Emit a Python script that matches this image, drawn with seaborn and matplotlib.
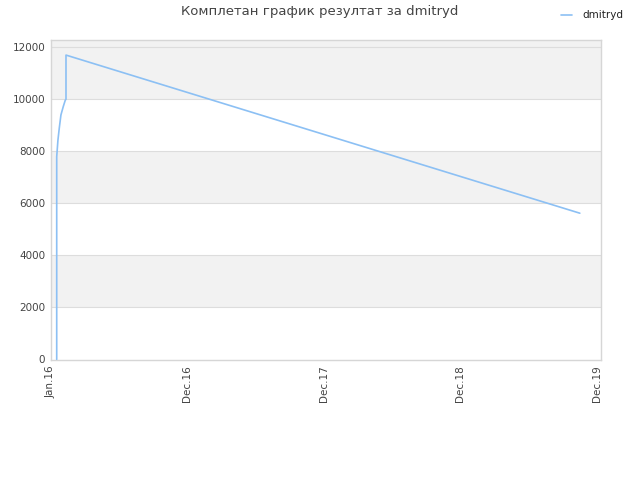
import matplotlib
matplotlib.use("Agg")
import matplotlib.pyplot as plt
import seaborn as sns
import pandas as pd

# ---- data ----
title = "Комплетан график резултат за dmitryd"
series_name = "dmitryd"
tick_labels = ["Jan.16", "Dec.16", "Dec.17", "Dec.18", "Dec.19"]
tick_positions = [0, 1, 2, 3, 4]
x_vals = [0.044, 0.044, 0.053, 0.063, 0.075, 0.092, 0.107, 0.112, 0.112, 3.875]
y_vals = [0, 7790, 8430, 8900, 9400, 9720, 9970, 10000, 11700, 5620]
y_ticks = [0, 2000, 4000, 6000, 8000, 10000, 12000]

df = pd.DataFrame({"x": x_vals, "y": y_vals, "series": series_name})

sns.set_style("white")
fig = plt.figure(figsize=(6.4, 4.8), dpi=100)
ax = fig.add_axes([50.7 / 640, 120 / 480, 550.3 / 640, 320 / 480])

ymin, ymax = -25, 12280
# alternating bands
band_edges = y_ticks + [ymax]
for i in range(len(band_edges) - 1):
    if i % 2 == 1 or i == len(band_edges) - 2:
        ax.axhspan(band_edges[i], band_edges[i + 1], color="#f2f2f2", zorder=0, lw=0)
for yt in y_ticks[1:]:
    ax.axhline(yt, color="#dddddd", lw=0.8, zorder=1)

sns.lineplot(data=df, x="x", y="y", sort=False, estimator=None, ax=ax,
             color="#8cc0f4", lw=1.2, legend=False, zorder=3)

ax.set_xlim(0, 4.03)
ax.set_ylim(ymin, ymax)
ax.set_xticks(tick_positions)
ax.set_xticklabels(tick_labels, rotation=90, fontsize=7.5, color="#444444")
ax.set_yticks(y_ticks)
ax.set_yticklabels([str(v) for v in y_ticks], fontsize=7.5, color="#444444")
ax.tick_params(length=0, pad=4)
ax.set_xlabel("")
ax.set_ylabel("")
for s in ax.spines.values():
    s.set_color("#d6d6d6")
    s.set_linewidth(1.0)

fig.text(0.5, 1 - 12 / 480, title, ha="center", va="center", fontsize=9.5, color="#444444")
fig.lines.append(plt.Line2D([561 / 640, 572 / 640], [1 - 15 / 480, 1 - 15 / 480],
                            transform=fig.transFigure, color="#8cc0f4", lw=1.2))
fig.text(582 / 640, 1 - 15 / 480, series_name, ha="left", va="center", fontsize=7.5, color="#222222")

fig.savefig("out.png", dpi=100)
